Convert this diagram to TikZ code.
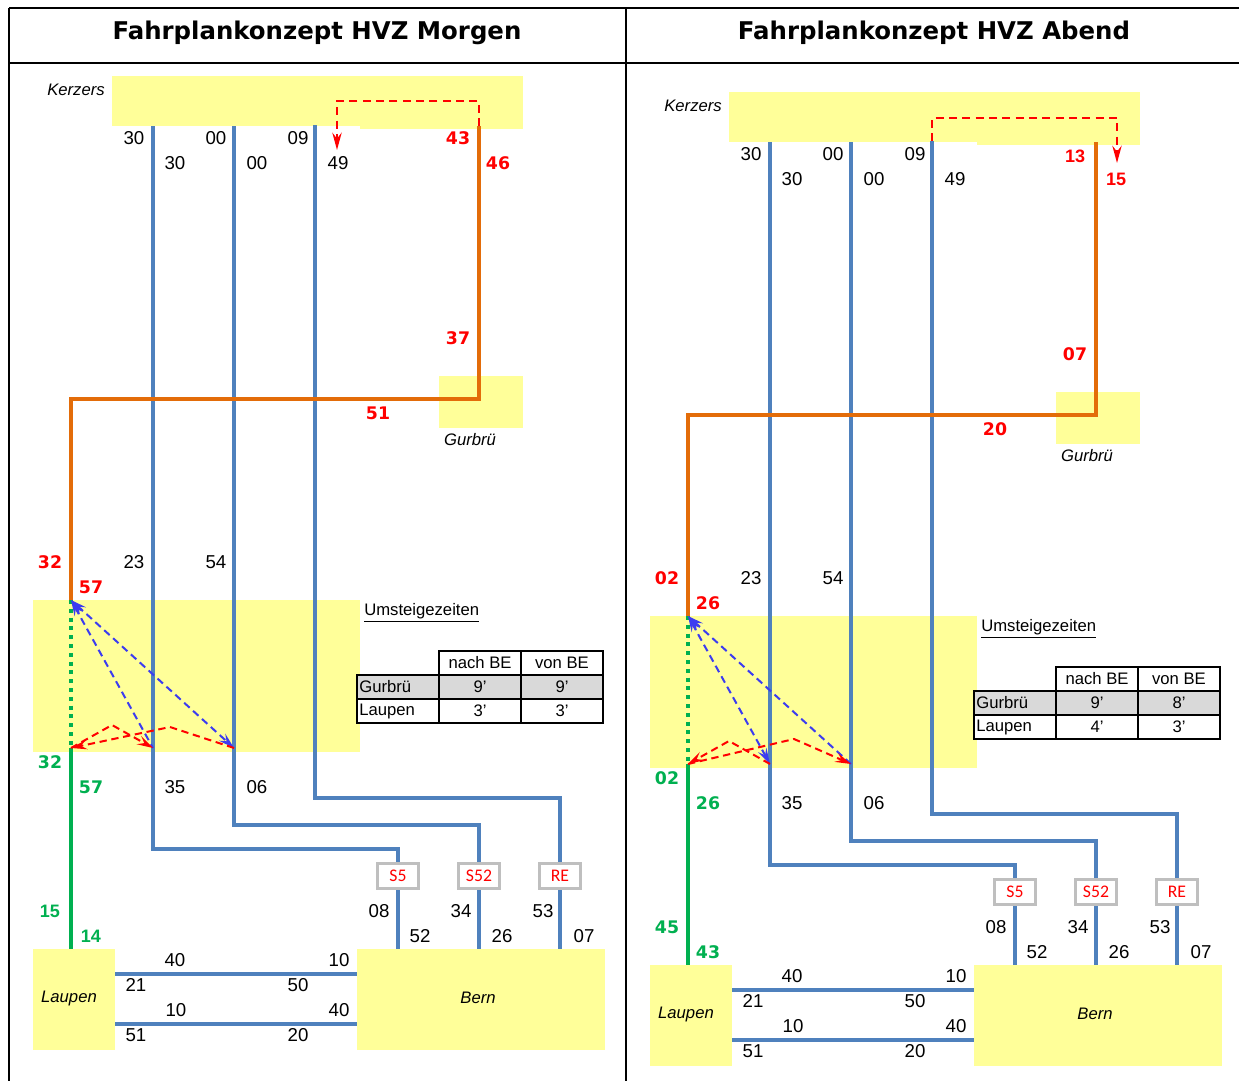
\documentclass[tikz,border=0pt]{standalone}
\usepackage{fontspec}
\setmainfont{Liberation Sans}
\newfontfamily\verd{DejaVu Sans}
\newfontfamily\carl{Carlito}
\usetikzlibrary{arrows.meta,fit}
\definecolor{ryel}{HTML}{FFFF99}
\definecolor{rblue}{HTML}{4F81BD}
\definecolor{rorange}{HTML}{E36C09}
\definecolor{rgreen}{HTML}{00B050}
\definecolor{rdash}{HTML}{3C3CF0}
\definecolor{rgrayfill}{HTML}{D9D9D9}
\definecolor{rgrayline}{HTML}{BFBFBF}
\tikzset{
  yelbox/.style={fill=ryel, draw=none, inner sep=0pt, outer sep=0pt},
  num/.style={font=\fontsize{14}{16}\selectfont, inner sep=0pt},
  rnum/.style={font=\verd\bfseries\fontsize{13}{15}\selectfont, text=red, inner sep=0pt},
  gnum/.style={rnum, text=rgreen},
  ranum/.style={font=\bfseries\fontsize{13.5}{15}\selectfont, text=red, inner sep=0pt},
  ganum/.style={ranum, text=rgreen},
  stn/.style={font=\itshape\fontsize{12.5}{14}\selectfont, inner sep=0pt},
  bthin/.style={draw=rblue, line width=2.3pt},
  bthick/.style={draw=rblue, line width=3.4pt},
  oline/.style={draw=rorange, line width=3.4pt},
  gline/.style={draw=rgreen, line width=3.4pt},
  gdot/.style={draw=rgreen, line width=3.2pt, dash pattern=on 3pt off 3.6pt},
  rbox/.style={draw=rgrayline, line width=1.6pt, fill=white, text=red,
    font=\carl\fontsize{13.3}{15}\selectfont, minimum width=30.75pt,
    minimum height=18.75pt, inner sep=0pt},
  cell/.style={draw=black, line width=2.1pt, minimum width=61.5pt,
    minimum height=18pt, inner sep=0pt, font=\fontsize{12.5}{14}\selectfont},
  cellL/.style={cell, text width=58pt, inner xsep=1.75pt, align=left},
  frame/.style={draw=black, line width=1.9pt},
  ttip/.tip={Stealth[length=12pt, width=7pt, inset=4.5pt]},
  bdash/.style={draw=rdash, line width=1.5pt, dash pattern=on 5.5pt off 3.5pt},
  rdashT/.style={draw=red, line width=1.5pt, dash pattern=on 5.5pt off 3.5pt},
  kdash/.style={draw=red, line width=1.6pt, dash pattern=on 6pt off 4pt},
  ktip/.tip={Stealth[length=13pt, width=7pt, inset=4.5pt]},
  ttl/.style={font=\verd\bfseries\fontsize{18.3}{22}\selectfont, inner sep=0pt}
}
% #1 prefix, #2-#5 table values
\newcommand\fpkpanel[5]{%
  \node[yelbox, fit={(112,76)(523,126)}] (#1kerz) {};
  \fill[ryel] (360,120) rectangle (523,129);
  \node[stn, anchor=east] (#1kerzlab) at (105,90) {Kerzers};
  \node[yelbox, fit={(439,376)(523,428)}] (#1gurb) {};
  \node[stn] (#1gurblab) at (470,440) {Gurbrü};
  \node[yelbox, fit={(33,600)(360,752)}] (#1umst) {};
  \node[yelbox, fit={(33,949)(115,1050)}] (#1laupen) {};
  \node[yelbox, fit={(357,949)(605,1050)}] (#1bern) {};
  \node[stn] (#1laupenlab) at (69,998) {Laupen};
  \node[stn] (#1bernlab) at (478,998) {Bern};
  \coordinate (#1k1) at (153,126); \coordinate (#1b1) at (398,949);
  \coordinate (#1k2) at (234,126); \coordinate (#1b2) at (479,949);
  \coordinate (#1k3) at (315,125); \coordinate (#1b3) at (560,949);
  \coordinate (#1ko) at (479,126); \coordinate (#1T) at (71,600);
  \coordinate (#1G) at (71,748);   \coordinate (#1lt) at (71,949);
  \draw[bthin] (#1k1) -- (153,849) -- (398,849) -- (#1b1);
  \draw[bthin] (#1k2) -- (234,825) -- (479,825) -- (#1b2);
  \draw[bthick] (#1k3) -- (315,798) -- (560,798) -- (#1b3);
  \draw[oline] (#1ko) -- (479,399) -- (71,399) -- (#1T);
  \draw[gdot] (#1T) -- (#1G);
  \draw[gline] (#1G) -- (#1lt);
  \draw[bthin] (115,974) -- (357,974);
  \draw[bthin] (115,1024) -- (357,1024);
  \node[rbox] (#1s5) at (398,876) {S5};
  \node[rbox] (#1s52) at (479,876) {S52};
  \node[rbox] (#1re) at (560,876) {RE};
  \node[num] (#1a1) at (134,138) {30};
  \node[num] (#1a2) at (216,138) {00};
  \node[num] (#1a3) at (298,138) {09};
  \node[num] (#1a4) at (175,163) {30};
  \node[num] (#1a5) at (257,163) {00};
  \node[num] (#1a6) at (338,163) {49};
  \node[num] (#1a7) at (134,562) {23};
  \node[num] (#1a8) at (216,562) {54};
  \node[num] (#1a9) at (175,787) {35};
  \node[num] (#1a10) at (257,787) {06};
  \node[num] (#1c1) at (379,911) {08};
  \node[num] (#1c2) at (420,936) {52};
  \node[num] (#1c3) at (461,911) {34};
  \node[num] (#1c4) at (502,936) {26};
  \node[num] (#1c5) at (543,911) {53};
  \node[num] (#1c6) at (584,936) {07};
  \node[num] (#1d1) at (175,960) {40};
  \node[num] (#1d2) at (339,960) {10};
  \node[num] (#1d3) at (136,985) {21};
  \node[num] (#1d4) at (298,985) {50};
  \node[num] (#1d5) at (176,1010) {10};
  \node[num] (#1d6) at (339,1010) {40};
  \node[num] (#1d7) at (136,1035) {51};
  \node[num] (#1d8) at (298,1035) {20};
  \node[anchor=west, inner sep=0pt, font=\fontsize{12.5}{14}\selectfont] (#1umlab) at (364,613) {\underline{Umsteigezeiten}};
  \node[cell, fill=white] (#1h1) at (480,663) {nach BE};
  \node[cell, fill=white] (#1h2) at (562,663) {von BE};
  \node[cellL, fill=rgrayfill] (#1r1) at (398,687) {Gurbrü};
  \node[cell, fill=rgrayfill] (#1r1a) at (480,687) {#2};
  \node[cell, fill=rgrayfill] (#1r1b) at (562,687) {#3};
  \node[cellL, fill=white] (#1r2) at (398,711) {Laupen};
  \node[cell, fill=white] (#1r2a) at (480,711) {#4};
  \node[cell, fill=white] (#1r2b) at (562,711) {#5};
}
\begin{document}
\begin{tikzpicture}[x=0.75pt, y=-0.75pt]
  \fill[white] (0,0) rectangle (1239,1081);
  \useasboundingbox (0,0) rectangle (1239,1081);
  % frame
  \draw[frame] (9,8) -- (1239,8);
  \draw[frame] (9,63) -- (1239,63);
  \draw[frame] (9,8) -- (9,1081);
  \draw[frame] (626,8) -- (626,1081);
  \node[ttl] (titleL) at (317,33) {Fahrplankonzept HVZ Morgen};
  \node[ttl] (titleR) at (934,33) {Fahrplankonzept HVZ Abend};
  % ---------------- left panel ----------------
  \fpkpanel{L}{9'}{9'}{3'}{3'}
  \coordinate (LB1) at (153,748); \coordinate (LB2) at (234,748);
  \coordinate (Lkd) at (479,101); \coordinate (Lke) at (337,101);
  \coordinate (Lkt) at (337,150);
  \draw[kdash, -ktip] (Lko) -- (Lkd) -- (Lke) -- (Lkt);
  \draw[bdash, ttip-] (LT) -- (LB1);
  \draw[bdash, ttip-ttip] (LT) -- (LB2);
  \draw[rdashT, -ttip] (LG) -- (112,725) -- (LB1);
  \draw[rdashT, -ttip] (LB2) -- (170,727) -- (LG);
  \node[rnum] (Lr1) at (458,138) {43};
  \node[rnum] (Lr2) at (498,163) {46};
  \node[rnum] (Lr3) at (458,338) {37};
  \node[rnum] (Lr4) at (378,413) {51};
  \node[rnum] (Lr5) at (50,562) {32};
  \node[rnum] (Lr6) at (91,587) {57};
  \node[gnum] (Lg1) at (50,762) {32};
  \node[gnum] (Lg2) at (91,787) {57};
  \node[ganum] (Lg3) at (50,911) {15};
  \node[ganum] (Lg4) at (91,936) {14};
  % ---------------- right panel ----------------
  \begin{scope}[shift={(617,16)}]
  \fpkpanel{R}{9'}{8'}{4'}{3'}
  \coordinate (RB1) at (153,748); \coordinate (RB2) at (234,748);
  \coordinate (Rkd) at (315,102); \coordinate (Rke) at (500,102);
  \coordinate (Rkt) at (500,147);
  \draw[kdash, -ktip] (Rk3) -- (Rkd) -- (Rke) -- (Rkt);
  \draw[bdash, ttip-ttip] (RT) -- (RB1);
  \draw[bdash, ttip-] (RT) -- (RB2);
  \draw[rdashT, -ttip] (RB1) -- (112,725) -- (RG);
  \draw[rdashT, -ttip] (RG) -- (177,723) -- (RB2);
  \node[ranum] (Rr1) at (458,140) {13};
  \node[ranum] (Rr2) at (499,163) {15};
  \node[rnum] (Rr3) at (458,338) {07};
  \node[rnum] (Rr4) at (378,413) {20};
  \node[rnum] (Rr5) at (50,562) {02};
  \node[rnum] (Rr6) at (91,587) {26};
  \node[gnum] (Rg1) at (50,762) {02};
  \node[gnum] (Rg2) at (91,787) {26};
  \node[gnum] (Rg3) at (50,911) {45};
  \node[gnum] (Rg4) at (91,936) {43};
  \end{scope}
\end{tikzpicture}
\end{document}
